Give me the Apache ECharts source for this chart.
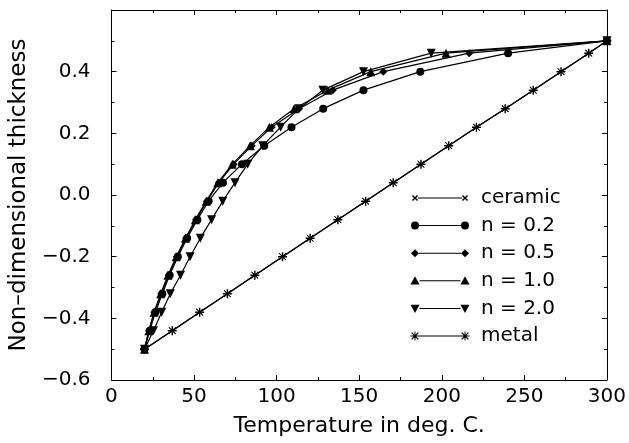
<!DOCTYPE html>
<html><head><meta charset="utf-8">
<script src="https://cdn.jsdelivr.net/npm/echarts@6/dist/echarts.min.js"></script>
<style>html,body{margin:0;padding:0;background:#fff}#c{width:629px;height:443px}</style>
</head><body><div id="c"></div>
<script>
// Non-dimensional thickness levels (y) at which each curve is sampled
const thickness = [-0.5,-0.44,-0.38,-0.32,-0.26,-0.20,-0.14,-0.08,-0.02,0.04,0.10,0.16,0.22,0.28,0.34,0.40,0.46,0.50];
// Temperatures (x) for each series
const tempCeramic = [20,36.8,53.4,70.2,86.8,103.6,120.3,137.1,153.9,170.6,187.4,204.2,221,238.4,255.4,272.2,289,300];
const tempN02 = [20,23.2,26.6,30.8,35.2,40.2,45.8,52,58.8,67.5,79,92.5,109,128.2,152.6,187,240.2,300];
const tempN05 = [20,22.8,26,30.2,34.6,39.6,45.2,51.2,57.8,65,74,85,97,113.6,134,164.6,216.6,300];
const tempN10 = [20,22.6,25.8,29.8,34.2,39.2,44.8,50.8,57.4,64.4,73.2,84,95.6,110.6,131,157,202.6,300];
const tempN20 = [20,25.4,30.4,35.6,41.8,47.6,53.8,60.6,67.4,74.8,82.5,91.6,102.4,113.5,128,152.6,193.6,300];
const tempMetal = [20,36.8,53.4,70.2,86.8,103.6,120.3,137.1,153.9,170.6,187.4,204.2,221,238.4,255.4,272.2,289,300];
const seriesNames = ['ceramic','n = 0.2','n = 0.5','n = 1.0','n = 2.0','metal'];
const xMin = 0, xMax = 300, xStep = 50;
const yMin = -0.6, yMax = 0.6, yStep = 0.2;
const xTitle = 'Temperature in deg. C.';
const yTitle = 'Non\u2013dimensional thickness';

const FONT = 'DejaVu Sans';
const STAR = 'path://M-0.8,-5L0.8,-5L0.8,5L-0.8,5Z M-5,-0.8L5,-0.8L5,0.8L-5,0.8Z M-4.1,-3.5L-3.5,-4.1L4.1,3.5L3.5,4.1Z M3.5,-4.1L4.1,-3.5L-3.5,4.1L-4.1,3.5Z';
const XMARK = 'path://M-4.1,-3.5L-3.5,-4.1L4.1,3.5L3.5,4.1Z M3.5,-4.1L4.1,-3.5L-3.5,4.1L-4.1,3.5Z';

// legend icon shapes (marker at both ends joined by a line)
function mk(kind, cx, cy, r) {
  switch (kind) {
    case 'circle': return `M${cx-r},${cy}A${r},${r} 0 1,1 ${cx+r},${cy}A${r},${r} 0 1,1 ${cx-r},${cy}Z`;
    case 'diamond': return `M${cx},${cy-r}L${cx+r},${cy}L${cx},${cy+r}L${cx-r},${cy}Z`;
    case 'up': return `M${cx},${cy-r}L${cx+r},${cy+r*0.8}L${cx-r},${cy+r*0.8}Z`;
    case 'down': return `M${cx-r},${cy-r*0.8}L${cx+r},${cy-r*0.8}L${cx},${cy+r}Z`;
    case 'x': { const a=r*0.85, t=0.5; return `M${cx-a-t},${cy-a+t}L${cx-a+t},${cy-a-t}L${cx+a+t},${cy+a-t}L${cx+a-t},${cy+a+t}Z M${cx+a-t},${cy-a-t}L${cx+a+t},${cy-a+t}L${cx-a+t},${cy+a+t}L${cx-a-t},${cy+a-t}Z`; }
    case 'star': { const a=r*0.75, t=0.45; return `M${cx-t},${cy-r}L${cx+t},${cy-r}L${cx+t},${cy+r}L${cx-t},${cy+r}Z M${cx-r},${cy-t}L${cx+r},${cy-t}L${cx+r},${cy+t}L${cx-r},${cy+t}Z M${cx-a-t},${cy-a+t}L${cx-a+t},${cy-a-t}L${cx+a+t},${cy+a-t}L${cx+a-t},${cy+a+t}Z M${cx+a-t},${cy-a-t}L${cx+a+t},${cy-a+t}L${cx-a+t},${cy+a+t}L${cx-a-t},${cy+a-t}Z`; }
  }
}
function icon(kind, r) {
  const W = 60, H = 10, cy = 5;
  const l = 5, rr = W - 5;
  const line = `M${l+r},${cy-0.5}L${rr-r},${cy-0.5}L${rr-r},${cy+0.5}L${l+r},${cy+0.5}Z`;
  return 'path://M0,0L0,0 M' + W + ',' + H + 'L' + W + ',' + H + ' ' + mk(kind, l, cy, r) + ' ' + line + ' ' + mk(kind, rr, cy, r);
}

const pts = t => t.map((v, i) => [v, thickness[i]]);
const base = { type: 'line', showSymbol: true, lineStyle: { color: '#000', width: 1.2 }, itemStyle: { color: '#000' }, z: 3 };
const series = [
  Object.assign({}, base, { name: seriesNames[0], data: pts(tempCeramic), symbol: XMARK, symbolSize: 7, z: 2 }),
  Object.assign({}, base, { name: seriesNames[1], data: pts(tempN02), symbol: 'circle', symbolSize: 8 }),
  Object.assign({}, base, { name: seriesNames[2], data: pts(tempN05), symbol: 'diamond', symbolSize: 8 }),
  Object.assign({}, base, { name: seriesNames[3], data: pts(tempN10), symbol: 'triangle', symbolSize: 9 }),
  Object.assign({}, base, { name: seriesNames[4], data: pts(tempN20), symbol: 'triangle', symbolRotate: 180, symbolSize: 9 }),
  Object.assign({}, base, { name: seriesNames[5], data: pts(tempMetal), symbol: STAR, symbolSize: 9 })
];

const axisCommon = {
  axisLine: { show: true, onZero: false, lineStyle: { color: '#000', width: 1 } },
  axisTick: { show: true, inside: true, length: 5, lineStyle: { color: '#000' } },
  minorTick: { show: true, splitNumber: 2, length: 3, lineStyle: { color: '#000' } },
  splitLine: { show: false }
};
const yFmt = v => {
  if (Math.abs(v - yMax) < 1e-9) return '';
  const s = Math.abs(v).toFixed(1);
  return v < -1e-9 ? '\u2212' + s : s;
};

const option = {
  animation: false,
  backgroundColor: '#fff',
  grid: { left: 109, right: 20, top: 10, bottom: 63 },
  xAxis: [
    Object.assign({}, axisCommon, { type: 'value', min: xMin, max: xMax, interval: xStep, position: 'bottom',
      name: xTitle, nameLocation: 'middle', nameGap: 35,
      nameTextStyle: { fontFamily: FONT, fontSize: 22, color: '#000' },
      axisLabel: { fontFamily: FONT, fontSize: 20, color: '#000', margin: 7 } }),
    Object.assign({}, axisCommon, { type: 'value', min: xMin, max: xMax, interval: xStep, position: 'top', axisLabel: { show: false } })
  ],
  yAxis: [
    Object.assign({}, axisCommon, { type: 'value', min: yMin, max: yMax, interval: yStep, position: 'left',
      name: yTitle, nameLocation: 'middle', nameGap: 64, nameRotate: 90,
      nameTextStyle: { fontFamily: FONT, fontSize: 23, color: '#000' },
      axisLabel: { fontFamily: FONT, fontSize: 20, color: '#000', margin: 21, formatter: yFmt } }),
    Object.assign({}, axisCommon, { type: 'value', min: yMin, max: yMax, interval: yStep, position: 'right', axisLabel: { show: false } })
  ],
  legend: {
    orient: 'vertical', left: 405, top: 183,
    itemWidth: 60, itemHeight: 10, itemGap: 7.6,
    textStyle: { fontFamily: FONT, fontSize: 20, color: '#000', lineHeight: 20, padding: [0, 0, 0, 6] },
    data: [
      { name: seriesNames[0], icon: icon('x', 3) },
      { name: seriesNames[1], icon: icon('circle', 4) },
      { name: seriesNames[2], icon: icon('diamond', 4) },
      { name: seriesNames[3], icon: icon('up', 4.5) },
      { name: seriesNames[4], icon: icon('down', 4.5) },
      { name: seriesNames[5], icon: icon('star', 4.5) }
    ],
    selectedMode: false
  },
  series: series
};
const chart = echarts.init(document.getElementById('c'), null, { renderer: 'canvas' });
chart.setOption(option);
</script></body></html>
